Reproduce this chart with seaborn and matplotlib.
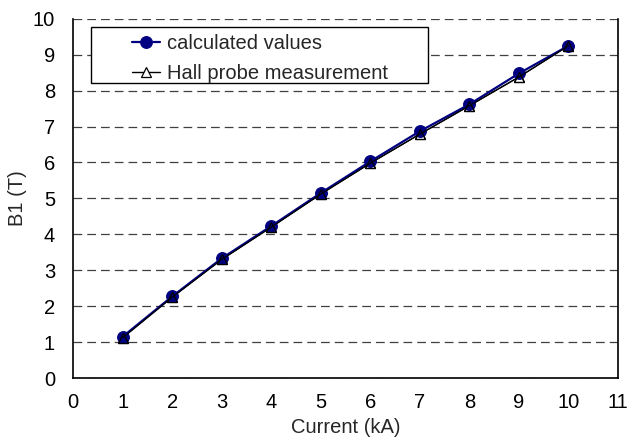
import matplotlib
matplotlib.use("Agg")
import matplotlib.pyplot as plt
import seaborn as sns
import pandas as pd
from matplotlib.patches import Rectangle

current_ka = [1, 2, 3, 4, 5, 6, 7, 8, 9, 10]
calculated = [1.15, 2.27, 3.33, 4.23, 5.15, 6.03, 6.87, 7.62, 8.48, 9.25]
hall_probe = [1.12, 2.25, 3.30, 4.20, 5.12, 5.98, 6.79, 7.58, 8.38, 9.25]
x_ticks = list(range(0, 12))
y_ticks = list(range(0, 11))

sns.set_style("white")
plt.rcParams['font.family'] = ['Liberation Sans', 'DejaVu Sans']

df = pd.DataFrame({"I": current_ka, "calc": calculated, "hall": hall_probe})

fig = plt.figure(figsize=(6.3, 4.37), dpi=100)
ax = fig.add_axes([0.116, 0.135, 0.865, 0.822])

sns.lineplot(data=df, x="I", y="hall", ax=ax, color="black", lw=1.0,
             marker="^", markersize=7.5, markerfacecolor="white",
             markeredgecolor="black", markeredgewidth=0.9,
             label="Hall probe measurement", zorder=3)
sns.lineplot(data=df, x="I", y="calc", ax=ax, color="#000080", lw=1.6,
             marker="o", markersize=8.5, markerfacecolor="#000080",
             markeredgecolor="#000080", label="calculated values", zorder=4)
# triangle outlines over the circles
ax.plot(df["I"], df["hall"], ls="none", marker="^", markersize=7.5,
        markerfacecolor="none", markeredgecolor="black",
        markeredgewidth=0.9, zorder=5)
ax.plot(df["I"], df["hall"], color="black", lw=0.8, zorder=5)

ax.set_xlim(0, 11)
ax.set_ylim(0, 10)
ax.set_xticks(x_ticks)
ax.set_yticks(y_ticks)
ax.tick_params(axis="both", labelsize=14.5, colors="black")
ax.tick_params(axis="y", direction="inout", length=10, width=1, pad=8)
ax.tick_params(axis="x", direction="out", length=5, width=1, color="#777777", pad=6)

ax.yaxis.grid(True, linestyle=(0, (7, 4)), color="#404040", lw=0.9)
ax.xaxis.grid(False)
for s in ["left", "bottom", "right"]:
    ax.spines[s].set_color("black")
    ax.spines[s].set_linewidth(1.2)
ax.spines["top"].set_visible(False)

ax.set_xlabel("Current (kA)", fontsize=14.5)
ax.set_ylabel("B1 (T)", fontsize=14.5)
ax.xaxis.set_label_coords(0.50, -0.112)
ax.yaxis.set_label_coords(-0.084, 0.5)

# legend frame
rect = Rectangle((0.033, 0.822), 0.618, 0.156, transform=ax.transAxes,
                 facecolor="white", edgecolor="black", lw=1.0, zorder=10)
ax.add_patch(rect)
handles, labels = ax.get_legend_handles_labels()
order = [labels.index("calculated values"), labels.index("Hall probe measurement")]
leg = ax.legend([handles[i] for i in order], [labels[i] for i in order],
                loc="upper left", bbox_to_anchor=(0.108, 0.958),
                frameon=False, fontsize=14.5, borderpad=0, borderaxespad=0,
                handlelength=1.4, handletextpad=0.35, labelspacing=0.55)
leg.set_zorder(11)

fig.savefig("out.png", dpi=100)
